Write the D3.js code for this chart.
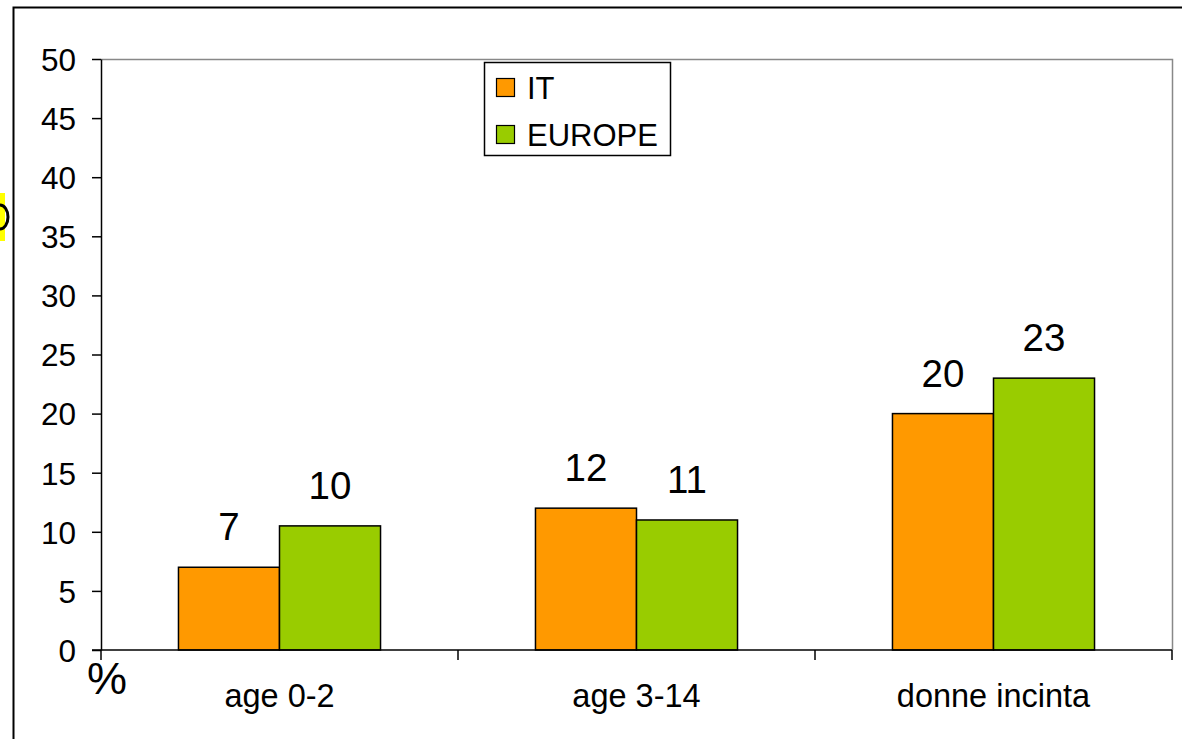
<!DOCTYPE html>
<html>
<head>
<meta charset="utf-8">
<script src="https://cdn.jsdelivr.net/npm/d3@7"></script>
<style>
  body { margin: 0; background: #fff; }
  svg { display: block; font-family: Arial, "Liberation Sans", sans-serif; }
</style>
</head>
<body>
<div id="chart"></div>
<script>
// --- Data ---
const categories = ["age 0-2", "age 3-14", "donne incinta"];
const seriesNames = ["IT", "EUROPE"];
const itValues = [7, 12, 20];
const europeValues = [10.5, 11, 23];
const valueLabels = [["7", "12", "20"], ["10", "11", "23"]];
const yTicks = [0, 5, 10, 15, 20, 25, 30, 35, 40, 45, 50];
const colors = ["#FF9900", "#99CC00"];

const width = 1182;
const height = 739;
const plot = { left: 101, right: 1172, top: 59, bottom: 650 };

const svg = d3
  .select("#chart")
  .append("svg")
  .attr("width", width)
  .attr("height", height);

svg.append("rect").attr("width", width).attr("height", height).attr("fill", "#fff");

// highlight fragment cut off at the far left (only a sliver of a glyph shows)
svg.append("rect")
  .attr("x", 0).attr("y", 193).attr("width", 5).attr("height", 48)
  .attr("fill", "#FFFF00");
svg.append("path")
  .attr("d", "M-6,205 A8,12 0 0 1 -6,229")
  .attr("transform", "translate(6,0)")
  .attr("fill", "none")
  .attr("stroke", "#000")
  .attr("stroke-width", 3);

// outer frame (left + top)
svg.append("path")
  .attr("d", `M13.5,${height} V7.5 H${width}`)
  .attr("fill", "none")
  .attr("stroke", "#000")
  .attr("stroke-width", 2);

// --- Scales ---
const y = d3.scaleLinear().domain([0, 50]).range([plot.bottom, plot.top]);

const x0 = d3
  .scaleBand()
  .domain(categories)
  .range([plot.left, plot.right])
  .paddingInner(0.434)
  .paddingOuter(0.217);

const x1 = d3
  .scaleBand()
  .domain(seriesNames)
  .range([0, x0.bandwidth()])
  .padding(0);

// plot area border (top + right), gray
svg.append("path")
  .attr("d", `M${plot.left},${plot.top + 0.5} H${plot.right + 0.5} V${plot.bottom}`)
  .attr("fill", "none")
  .attr("stroke", "#888")
  .attr("stroke-width", 1.5);

// --- Bars ---
const rows = categories.map((c, i) => ({
  category: c,
  values: [
    { key: "IT", value: itValues[i], label: valueLabels[0][i], color: colors[0] },
    { key: "EUROPE", value: europeValues[i], label: valueLabels[1][i], color: colors[1] }
  ]
}));

const group = svg
  .append("g")
  .selectAll("g")
  .data(rows)
  .join("g")
  .attr("transform", (d) => `translate(${x0(d.category)},0)`);

group
  .selectAll("rect")
  .data((d) => d.values)
  .join("rect")
  .attr("x", (d) => x1(d.key))
  .attr("y", (d) => y(d.value))
  .attr("width", x1.bandwidth())
  .attr("height", (d) => y(0) - y(d.value))
  .attr("fill", (d) => d.color)
  .attr("stroke", "#000")
  .attr("stroke-width", 1.5);

group
  .selectAll("text")
  .data((d) => d.values)
  .join("text")
  .attr("x", (d) => x1(d.key) + x1.bandwidth() / 2)
  .attr("y", (d) => y(d.value) - 27)
  .attr("text-anchor", "middle")
  .attr("font-size", 38.5)
  .attr("fill", "#000")
  .text((d) => d.label);

// --- Y axis ---
const yAxis = svg
  .append("g")
  .attr("transform", `translate(${plot.left},0)`)
  .call(
    d3.axisLeft(y)
      .tickValues(yTicks)
      .tickSize(9)
      .tickPadding(16)
      .tickSizeOuter(0)
  );
yAxis.attr("font-family", null);
yAxis.selectAll("text").attr("font-size", 31.5).attr("fill", "#000").attr("dy", "0.36em");
yAxis.selectAll("line").attr("stroke", "#000").attr("stroke-width", 1.5);
yAxis.select(".domain").attr("stroke", "#000").attr("stroke-width", 1.5);

// --- X axis (category boundaries) ---
const step = x0.step();
const boundaries = d3.range(categories.length + 1).map((i) => plot.left + i * step);

const xAxis = svg.append("g");
xAxis.append("line")
  .attr("x1", plot.left - 9).attr("x2", plot.right)
  .attr("y1", plot.bottom).attr("y2", plot.bottom)
  .attr("stroke", "#000").attr("stroke-width", 1.5);
xAxis.selectAll(".tick")
  .data(boundaries)
  .join("line")
  .attr("x1", (d) => d).attr("x2", (d) => d)
  .attr("y1", plot.bottom).attr("y2", plot.bottom + 10)
  .attr("stroke", "#000").attr("stroke-width", 1.5);
xAxis.selectAll(".cat")
  .data(categories)
  .join("text")
  .attr("x", (d) => x0(d) + x0.bandwidth() / 2)
  .attr("y", 707)
  .attr("text-anchor", "middle")
  .attr("font-size", 32.5)
  .attr("fill", "#000")
  .text((d) => d);

// unit
svg.append("text")
  .attr("x", 87).attr("y", 694)
  .attr("font-size", 45)
  .text("%");

// --- Legend ---
const legend = svg.append("g").attr("transform", "translate(484,62)");
legend.append("rect")
  .attr("x", 0.5).attr("y", 0.5).attr("width", 186).attr("height", 93)
  .attr("fill", "#fff").attr("stroke", "#000").attr("stroke-width", 1.5);

const legendItem = legend
  .selectAll("g")
  .data(seriesNames)
  .join("g")
  .attr("transform", (d, i) => `translate(0,${16 + i * 47})`);

legendItem.append("rect")
  .attr("x", 12.5).attr("y", 0.5).attr("width", 18).attr("height", 18)
  .attr("fill", (d, i) => colors[i])
  .attr("stroke", "#000").attr("stroke-width", 1.2);

legendItem.append("text")
  .attr("x", 43).attr("y", 21)
  .attr("font-size", 31)
  .text((d) => d);
</script>
</body>
</html>
